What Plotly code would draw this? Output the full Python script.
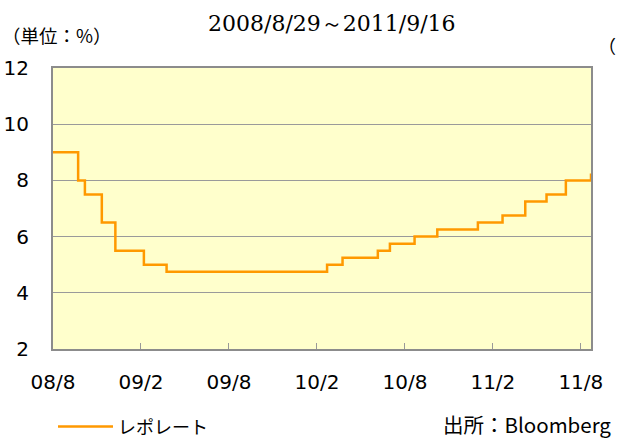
import plotly.graph_objects as go

# Repo rate step data (date of change, rate %)
dates = ["2008-08-29", "2008-10-20", "2008-11-03", "2008-12-08", "2009-01-05",
         "2009-03-05", "2009-04-21", "2010-03-19", "2010-04-20", "2010-07-02",
         "2010-07-27", "2010-09-16", "2010-11-02", "2011-01-25", "2011-03-17",
         "2011-05-03", "2011-06-16", "2011-07-26", "2011-09-16"]
rates = [9.0, 8.0, 7.5, 6.5, 5.5,
         5.0, 4.75, 5.0, 5.25, 5.5,
         5.75, 6.0, 6.25, 6.5, 6.75,
         7.25, 7.5, 8.0, 8.25]

tick_dates = ["2008-08-29", "2009-02-27", "2009-08-28", "2010-02-26",
              "2010-08-27", "2011-02-25", "2011-08-26"]
tick_labels = ["08/8", "09/2", "09/8", "10/2", "10/8", "11/2", "11/8"]

y_ticks = [2, 4, 6, 8, 10, 12]

SANS = "DejaVu Sans, Noto Sans CJK JP, sans-serif"
JP = "Noto Sans CJK JP, DejaVu Sans, sans-serif"

fig = go.Figure()
fig.add_trace(go.Scatter(
    x=dates, y=rates, mode="lines", line_shape="hv",
    line=dict(color="#FF9900", width=2.5),
    name="レポレート",
))

fig.update_layout(
    width=619, height=440,
    margin=dict(l=53, r=28, t=68, b=91, autoexpand=False),
    paper_bgcolor="white",
    plot_bgcolor="#FFFFCC",
    showlegend=True,
    legend=dict(
        x=0.0, y=-0.277, xanchor="left", yanchor="middle",
        orientation="h", itemwidth=55,
        font=dict(family=JP, size=18, color="black"),
        bgcolor="rgba(0,0,0,0)",
    ),
    xaxis=dict(
        type="date", automargin=False,
        range=["2008-08-29", "2011-09-16"],
        tickvals=tick_dates, ticktext=tick_labels,
        ticks="inside", ticklen=6, tickcolor="#999999", tickwidth=1,
        showgrid=False,
        showline=True, linecolor="#8c8c8c", linewidth=2, mirror=True,
        tickfont=dict(family=SANS, size=20, color="black"),
        ticklabelstandoff=14,
        zeroline=False,
    ),
    yaxis=dict(
        range=[2, 12], automargin=False,
        tickvals=y_ticks,
        ticks="inside", ticklen=5, tickcolor="#999999", tickwidth=1,
        showgrid=True, gridcolor="#9a9a9a", gridwidth=1,
        showline=True, linecolor="#8c8c8c", linewidth=2, mirror=True,
        tickfont=dict(family=SANS, size=20, color="black"),
        ticklabelstandoff=18,
        zeroline=False,
    ),
    annotations=[
        dict(text="2008/8/29～2011/9/16", xref="paper", yref="paper",
             x=0.5195, y=1.0, xanchor="center", yanchor="bottom", yshift=30,
             showarrow=False,
             font=dict(family="DejaVu Serif, Liberation Serif, serif", size=22, color="black")),
        dict(text="（単位：%）", xref="paper", yref="paper",
             x=0, y=1.0, xanchor="left", yanchor="bottom", xshift=-53, yshift=18,
             showarrow=False,
             font=dict(family=JP, size=18.5, color="black")),
        dict(text="出所：Bloomberg", xref="paper", yref="paper",
             x=1.0, y=0, xanchor="right", yanchor="middle", xshift=22, yshift=-75,
             showarrow=False,
             font=dict(family=JP, size=20.5, color="black")),
        dict(text="（", xref="paper", yref="paper",
             x=1.0, y=1.0, xanchor="left", yanchor="bottom", xshift=5, yshift=8,
             showarrow=False,
             font=dict(family=JP, size=18, color="black")),
    ],
)

fig.write_html("out.html",
               config={"displayModeBar": False},
               post_script="document.body.style.margin='0';document.body.style.overflow='hidden';")
